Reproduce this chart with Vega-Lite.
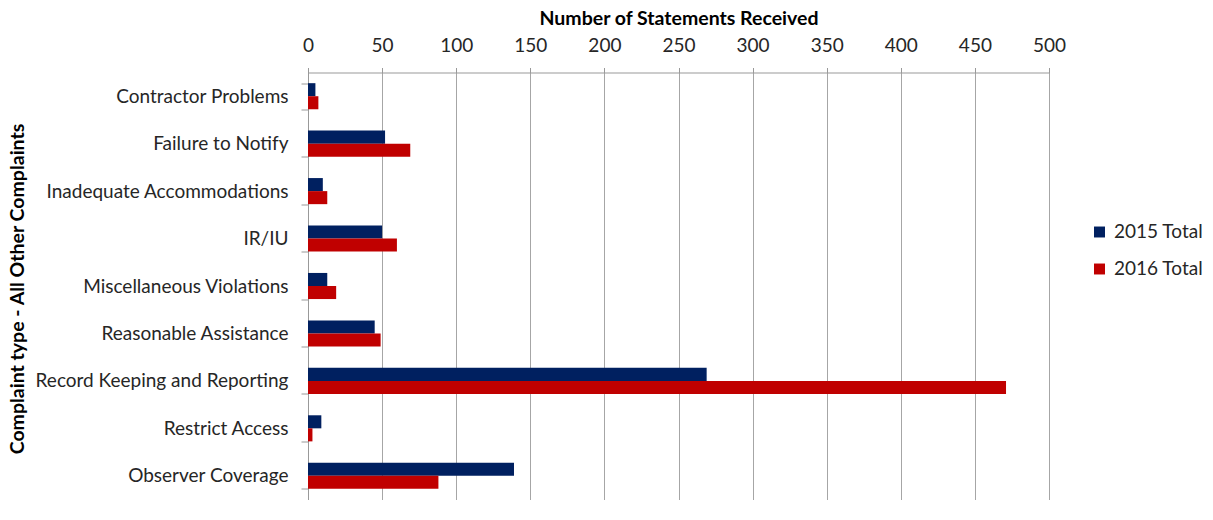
{
  "$schema": "https://vega.github.io/schema/vega-lite/v6.json",
  "width": 741,
  "height": 427,
  "autosize": {"type": "none"},
  "padding": {"left": 308, "top": 72.5, "right": 164, "bottom": 20.5},
  "background": "white",
  "config": {
    "font": "Lato",
    "view": {"stroke": null}
  },
  "data": {
    "values": [
      {"type": "Contractor Problems", "year": "2015 Total", "value": 5},
      {"type": "Contractor Problems", "year": "2016 Total", "value": 7},
      {"type": "Failure to Notify", "year": "2015 Total", "value": 52},
      {"type": "Failure to Notify", "year": "2016 Total", "value": 69},
      {"type": "Inadequate Accommodations", "year": "2015 Total", "value": 10},
      {"type": "Inadequate Accommodations", "year": "2016 Total", "value": 13},
      {"type": "IR/IU", "year": "2015 Total", "value": 50},
      {"type": "IR/IU", "year": "2016 Total", "value": 60},
      {"type": "Miscellaneous Violations", "year": "2015 Total", "value": 13},
      {"type": "Miscellaneous Violations", "year": "2016 Total", "value": 19},
      {"type": "Reasonable Assistance", "year": "2015 Total", "value": 45},
      {"type": "Reasonable Assistance", "year": "2016 Total", "value": 49},
      {"type": "Record Keeping and Reporting", "year": "2015 Total", "value": 269},
      {"type": "Record Keeping and Reporting", "year": "2016 Total", "value": 471},
      {"type": "Restrict Access", "year": "2015 Total", "value": 9},
      {"type": "Restrict Access", "year": "2016 Total", "value": 3},
      {"type": "Observer Coverage", "year": "2015 Total", "value": 139},
      {"type": "Observer Coverage", "year": "2016 Total", "value": 88}
    ]
  },
  "mark": {"type": "bar"},
  "encoding": {
    "y": {
      "field": "type",
      "type": "nominal",
      "sort": ["Contractor Problems", "Failure to Notify", "Inadequate Accommodations", "IR/IU", "Miscellaneous Violations", "Reasonable Assistance", "Record Keeping and Reporting", "Restrict Access", "Observer Coverage"],
      "scale": {"paddingInner": 0.45, "paddingOuter": 0.225},
      "axis": {
        "title": "Complaint type - All Other Complaints",
        "titleFontSize": 19.5,
        "titleFontWeight": "bold",
        "titleColor": "#000000",
        "titleX": -291,
        "titleY": 216,
        "titleAngle": -90,
        "titleBaseline": "middle",
        "titleAlign": "center",
        "labelFontSize": 19,
        "labelLimit": 400,
        "labelColor": "#262626",
        "labelPadding": 13,
        "domainColor": "#999999",
        "tickColor": "#999999",
        "tickBand": "extent",
        "tickSize": 7,
        "grid": false
      }
    },
    "yOffset": {
      "field": "year",
      "type": "nominal",
      "sort": ["2015 Total", "2016 Total"]
    },
    "x": {
      "field": "value",
      "type": "quantitative",
      "scale": {"domain": [0, 500], "nice": false},
      "axis": {
        "orient": "top",
        "title": "Number of Statements Received",
        "titleFontSize": 19.5,
        "titleFontWeight": "bold",
        "titleColor": "#000000",
        "titlePadding": 8,
        "values": [0, 50, 100, 150, 200, 250, 300, 350, 400, 450, 500],
        "labelFlush": false,
        "labelFontSize": 19,
        "labelColor": "#262626",
        "labelPadding": 12,
        "domainColor": "#999999",
        "tickColor": "#999999",
        "tickSize": 5,
        "grid": true,
        "gridColor": "#a6a6a6",
        "gridWidth": 1
      }
    },
    "color": {
      "field": "year",
      "type": "nominal",
      "scale": {"domain": ["2015 Total", "2016 Total"], "range": ["#002060", "#C00000"]},
      "legend": {
        "title": null,
        "orient": "none",
        "legendX": 782,
        "legendY": 150,
        "symbolType": "square",
        "symbolSize": 120,
        "labelFontSize": 19,
        "labelColor": "#262626",
        "rowPadding": 17,
        "labelOffset": 5
      }
    }
  }
}
